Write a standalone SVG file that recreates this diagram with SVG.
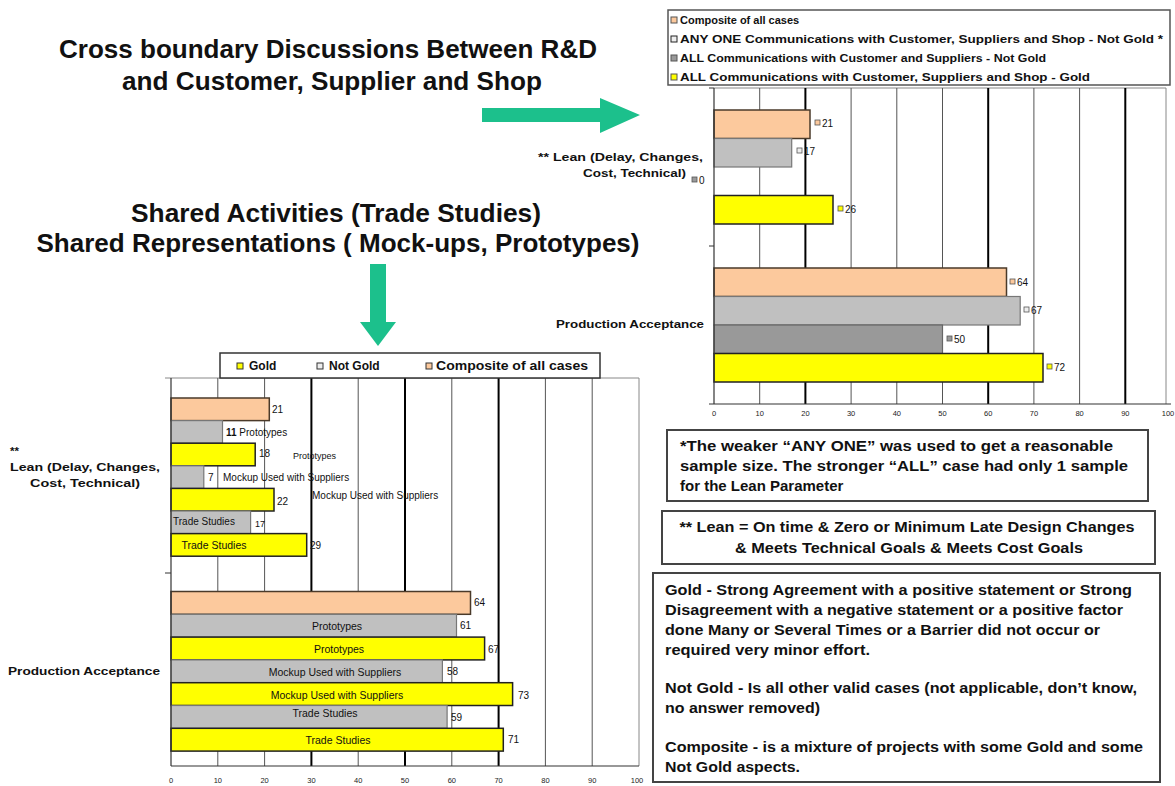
<svg xmlns="http://www.w3.org/2000/svg" width="1175" height="786" viewBox="0 0 1175 786">
<defs>
<style>
text{font-family:"Liberation Sans",Arial,sans-serif;fill:#111}
.title{font-size:26px;font-weight:bold;text-anchor:middle}
.note{font-size:15px;font-weight:bold}
.def{font-size:14.5px;font-weight:bold}
.leg{font-size:11px;font-weight:bold}
.cat{font-size:11.5px;font-weight:bold}
.val{font-size:10px}
.in{font-size:10.5px;text-anchor:middle}
.tick{font-size:7.5px;text-anchor:middle;fill:#222}
.grid{stroke:#555;stroke-width:1}
.gridb{stroke:#000;stroke-width:2}
.comp{fill:#FCC99D;stroke:#4a3a2a;stroke-width:1.5}
.ng{fill:#C0C0C0;stroke:#777;stroke-width:1.2}
.ngd{fill:#999999;stroke:#666;stroke-width:1.2}
.gold{fill:#FFFF00;stroke:#222;stroke-width:1.5}
.arrow{fill:#1CC08C}
.box{fill:#fff;stroke:#444;stroke-width:2}
</style>
</defs>
<rect width="1175" height="786" fill="#fff"/>

<g id="title-cross-boundary">
<text class="title" x="328" y="58" textLength="538" lengthAdjust="spacingAndGlyphs">Cross boundary Discussions Between R&amp;D</text>
<text class="title" x="332" y="90" textLength="420" lengthAdjust="spacingAndGlyphs">and Customer, Supplier and Shop</text>
</g>

<g id="title-shared">
<text class="title" x="336" y="222" textLength="410" lengthAdjust="spacingAndGlyphs">Shared Activities (Trade Studies)</text>
<text class="title" x="338" y="252" textLength="603" lengthAdjust="spacingAndGlyphs">Shared Representations ( Mock-ups, Prototypes)</text>
</g>

<g id="connectors">
<polygon class="arrow" points="482,108 600,108 600,98 640,115 600,133 600,122 482,122"/>
<polygon class="arrow" points="370,264 386,264 386,322 396,322 378,346 360,322 370,322"/>
</g>

<g id="chart-right">
<rect x="668" y="10" width="502" height="75" fill="#fff" stroke="#555" stroke-width="1.5"/>
<rect x="671" y="17" width="6" height="6" fill="#FCC99D" stroke="#555"/>
<text class="leg" x="680" y="24">Composite of all cases</text>
<rect x="671" y="36" width="6" height="6" fill="#eee" stroke="#222"/>
<text class="leg" x="680" y="43" textLength="483" lengthAdjust="spacingAndGlyphs">ANY ONE Communications with Customer, Suppliers and Shop - Not Gold *</text>
<rect x="671" y="55" width="6" height="6" fill="#999" stroke="#555"/>
<text class="leg" x="680" y="62" textLength="366" lengthAdjust="spacingAndGlyphs">ALL Communications with Customer and Suppliers - Not Gold</text>
<rect x="671" y="74" width="6" height="6" fill="#FFFF00" stroke="#555"/>
<text class="leg" x="680" y="81" textLength="410" lengthAdjust="spacingAndGlyphs">ALL Communications with Customer, Suppliers and Shop - Gold</text>

<line x1="714" y1="88" x2="1166" y2="88" stroke="#888"/>
<line x1="1166" y1="88" x2="1166" y2="404" stroke="#888"/>
<line class="grid" x1="759.7" y1="88" x2="759.7" y2="404"/>
<line class="gridb" x1="805.4" y1="88" x2="805.4" y2="404"/>
<line class="grid" x1="851.1" y1="88" x2="851.1" y2="404"/>
<line class="grid" x1="896.8" y1="88" x2="896.8" y2="404"/>
<line class="grid" x1="942.5" y1="88" x2="942.5" y2="404"/>
<line class="gridb" x1="988.2" y1="88" x2="988.2" y2="404"/>
<line class="grid" x1="1033.9" y1="88" x2="1033.9" y2="404"/>
<line class="grid" x1="1079.6" y1="88" x2="1079.6" y2="404"/>
<line class="gridb" x1="1125.3" y1="88" x2="1125.3" y2="404"/>

<rect class="comp" x="714" y="110" width="96" height="28.5"/>
<rect class="ng" x="714" y="138.5" width="77.7" height="28.5"/>
<rect class="gold" x="714" y="195.5" width="119" height="28.5"/>
<rect class="comp" x="714" y="268" width="292.5" height="28.5"/>
<rect class="ng" x="714" y="296.5" width="306.2" height="28.5"/>
<rect class="ngd" x="714" y="325" width="228.5" height="28.5"/>
<rect class="gold" x="714" y="353.5" width="329" height="28.5"/>

<line x1="714" y1="88" x2="714" y2="404" stroke="#333" stroke-width="1.2"/>
<line x1="709" y1="88" x2="714" y2="88" stroke="#333"/>
<line x1="709" y1="246" x2="714" y2="246" stroke="#333"/>
<line x1="709" y1="404" x2="714" y2="404" stroke="#333"/>
<line x1="714" y1="404" x2="1171" y2="404" stroke="#333" stroke-width="1.2"/>

<rect x="815" y="120" width="5" height="5" fill="#FCC99D" stroke="#555" stroke-width="0.8"/>
<text class="val" x="822" y="127">21</text>
<rect x="797" y="148" width="5" height="5" fill="#eee" stroke="#555" stroke-width="0.8"/>
<text class="val" x="804" y="155">17</text>
<rect x="692" y="177" width="5" height="5" fill="#999" stroke="#555" stroke-width="0.8"/>
<text class="val" x="699" y="184">0</text>
<rect x="838" y="206" width="5" height="5" fill="#FFFF00" stroke="#555" stroke-width="0.8"/>
<text class="val" x="845" y="213">26</text>
<rect x="1010" y="279" width="5" height="5" fill="#FCC99D" stroke="#555" stroke-width="0.8"/>
<text class="val" x="1017" y="286">64</text>
<rect x="1024" y="307" width="5" height="5" fill="#eee" stroke="#555" stroke-width="0.8"/>
<text class="val" x="1031" y="314">67</text>
<rect x="947" y="336" width="5" height="5" fill="#999" stroke="#555" stroke-width="0.8"/>
<text class="val" x="954" y="343">50</text>
<rect x="1047" y="364" width="5" height="5" fill="#FFFF00" stroke="#555" stroke-width="0.8"/>
<text class="val" x="1054" y="371">72</text>

<text class="cat" x="538" y="161" textLength="165" lengthAdjust="spacingAndGlyphs">** Lean (Delay, Changes,</text>
<text class="cat" x="583" y="177" textLength="103" lengthAdjust="spacingAndGlyphs">Cost, Technical)</text>
<text class="cat" x="556" y="328" textLength="148" lengthAdjust="spacingAndGlyphs">Production Acceptance</text>

<text class="tick" x="714" y="416">0</text>
<text class="tick" x="759.7" y="416">10</text>
<text class="tick" x="805.4" y="416">20</text>
<text class="tick" x="851.1" y="416">30</text>
<text class="tick" x="896.8" y="416">40</text>
<text class="tick" x="942.5" y="416">50</text>
<text class="tick" x="988.2" y="416">60</text>
<text class="tick" x="1033.9" y="416">70</text>
<text class="tick" x="1079.6" y="416">80</text>
<text class="tick" x="1125.3" y="416">90</text>
<text class="tick" x="1168" y="416">100</text>
</g>

<g id="chart-left">
<line x1="165" y1="378" x2="639" y2="378" stroke="#888"/>
<line x1="639" y1="378" x2="639" y2="766" stroke="#888"/>
<line class="grid" x1="217.8" y1="378" x2="217.8" y2="766"/>
<line class="grid" x1="264.6" y1="378" x2="264.6" y2="766"/>
<line class="gridb" x1="311.4" y1="378" x2="311.4" y2="766"/>
<line class="grid" x1="358.2" y1="378" x2="358.2" y2="766"/>
<line class="gridb" x1="405" y1="378" x2="405" y2="766"/>
<line class="grid" x1="451.8" y1="378" x2="451.8" y2="766"/>
<line class="gridb" x1="498.6" y1="378" x2="498.6" y2="766"/>
<line class="grid" x1="545.4" y1="378" x2="545.4" y2="766"/>
<line class="grid" x1="592.2" y1="378" x2="592.2" y2="766"/>

<rect x="220" y="353" width="380" height="25" fill="#fff" stroke="#333" stroke-width="1.5"/>
<rect x="237" y="363" width="6" height="6" fill="#FFFF00" stroke="#333"/>
<text class="leg" x="249" y="370" style="font-size:12px">Gold</text>
<rect x="317" y="363" width="6" height="6" fill="#eee" stroke="#333"/>
<text class="leg" x="329" y="370" style="font-size:12px">Not Gold</text>
<rect x="426" y="363" width="6" height="6" fill="#FCC99D" stroke="#333"/>
<text class="leg" x="436" y="370" style="font-size:12px" textLength="152" lengthAdjust="spacingAndGlyphs">Composite of all cases</text>

<rect class="comp" x="171" y="398" width="98.3" height="22.6"/>
<rect class="ng" x="171" y="420.6" width="51.5" height="22.6"/>
<rect class="gold" x="171" y="443.2" width="84.2" height="22.6"/>
<rect class="ng" x="171" y="465.8" width="32.8" height="22.6"/>
<rect class="gold" x="171" y="488.4" width="103" height="22.6"/>
<rect class="ng" x="171" y="511" width="79.6" height="22.6"/>
<rect class="gold" x="171" y="533.6" width="135.7" height="22.6"/>

<rect class="comp" x="171" y="591.5" width="299.5" height="22.8"/>
<rect class="ng" x="171" y="614.3" width="285.5" height="22.8"/>
<rect class="gold" x="171" y="637.1" width="313.6" height="22.8"/>
<rect class="ng" x="171" y="659.9" width="271.4" height="22.8"/>
<rect class="gold" x="171" y="682.7" width="341.6" height="22.8"/>
<rect class="ng" x="171" y="705.5" width="276.1" height="22.8"/>
<rect class="gold" x="171" y="728.3" width="332.3" height="22.8"/>

<line x1="171" y1="378" x2="171" y2="766" stroke="#333" stroke-width="1.2"/>
<line x1="165" y1="573" x2="171" y2="573" stroke="#333"/>
<line x1="171" y1="766" x2="639" y2="766" stroke="#333" stroke-width="1.2"/>

<text class="val" x="272" y="413">21</text>
<text class="val" x="226" y="436"><tspan font-weight="bold">11</tspan> Prototypes</text>
<text class="val" x="259" y="457">18</text>
<text class="val" x="293" y="459" style="font-size:9px">Prototypes</text>
<text class="val" x="208" y="481">7</text>
<text class="val" x="223" y="481">Mockup Used with Suppliers</text>
<text class="val" x="277" y="505">22</text>
<text class="val" x="312" y="499">Mockup Used with Suppliers</text>
<text class="val" x="173" y="525">Trade Studies</text>
<text class="val" x="255" y="527" style="font-size:9px">17</text>
<text class="in" x="214" y="549">Trade Studies</text>
<text class="val" x="310" y="549">29</text>

<text class="val" x="474" y="606">64</text>
<text class="in" x="337" y="630">Prototypes</text>
<text class="val" x="460" y="629">61</text>
<text class="in" x="339" y="653">Prototypes</text>
<text class="val" x="488" y="653">67</text>
<text class="in" x="335" y="676">Mockup Used with Suppliers</text>
<text class="val" x="447" y="675">58</text>
<text class="in" x="337" y="699">Mockup Used with Suppliers</text>
<text class="val" x="518" y="699">73</text>
<text class="in" x="325" y="717">Trade Studies</text>
<text class="val" x="451" y="721">59</text>
<text class="in" x="338" y="744">Trade Studies</text>
<text class="val" x="508" y="743">71</text>

<text class="cat" x="10" y="455">**</text>
<text class="cat" x="10" y="471" textLength="150" lengthAdjust="spacingAndGlyphs">Lean (Delay, Changes,</text>
<text class="cat" x="30" y="487" textLength="110" lengthAdjust="spacingAndGlyphs">Cost, Technical)</text>
<text class="cat" x="8" y="675" textLength="152" lengthAdjust="spacingAndGlyphs">Production Acceptance</text>

<text class="tick" x="171" y="783">0</text>
<text class="tick" x="217.8" y="783">10</text>
<text class="tick" x="264.6" y="783">20</text>
<text class="tick" x="311.4" y="783">30</text>
<text class="tick" x="358.2" y="783">40</text>
<text class="tick" x="405" y="783">50</text>
<text class="tick" x="451.8" y="783">60</text>
<text class="tick" x="498.6" y="783">70</text>
<text class="tick" x="545.4" y="783">80</text>
<text class="tick" x="592.2" y="783">90</text>
<text class="tick" x="637" y="783">100</text>
</g>

<g id="note-any-one">
<rect class="box" x="667" y="430" width="481" height="71"/>
<text class="note" x="680" y="451" textLength="433" lengthAdjust="spacingAndGlyphs">*The weaker “ANY ONE” was used  to get a reasonable</text>
<text class="note" x="680" y="471" textLength="448" lengthAdjust="spacingAndGlyphs">sample size.  The stronger “ALL”  case had only 1 sample</text>
<text class="note" x="680" y="491">for  the Lean Parameter</text>
</g>

<g id="note-lean">
<rect class="box" x="662" y="511" width="493" height="53" stroke="#222"/>
<text class="note" x="907" y="532" text-anchor="middle" textLength="455" lengthAdjust="spacingAndGlyphs">** Lean = On time &amp; Zero or Minimum Late Design Changes</text>
<text class="note" x="909" y="553" text-anchor="middle" textLength="348" lengthAdjust="spacingAndGlyphs">&amp; Meets Technical Goals &amp; Meets Cost Goals</text>
</g>

<g id="note-definitions">
<rect class="box" x="653" y="573" width="507" height="209" stroke="#888"/>
<text class="def" x="665" y="595" textLength="467" lengthAdjust="spacingAndGlyphs">Gold - Strong Agreement with a positive statement or Strong</text>
<text class="def" x="665" y="615" textLength="458" lengthAdjust="spacingAndGlyphs">Disagreement with a negative statement or a positive factor</text>
<text class="def" x="665" y="635" textLength="435" lengthAdjust="spacingAndGlyphs">done Many or Several Times or a Barrier did not occur or</text>
<text class="def" x="665" y="655" textLength="205" lengthAdjust="spacingAndGlyphs">required very minor effort.</text>
<text class="def" x="665" y="693" textLength="472" lengthAdjust="spacingAndGlyphs">Not Gold - Is all other valid cases (not applicable, don’t know,</text>
<text class="def" x="665" y="713" textLength="155" lengthAdjust="spacingAndGlyphs">no answer removed)</text>
<text class="def" x="665" y="752" textLength="478" lengthAdjust="spacingAndGlyphs">Composite - is a mixture of projects with some Gold and some</text>
<text class="def" x="665" y="772" textLength="135" lengthAdjust="spacingAndGlyphs">Not Gold aspects.</text>
</g>
</svg>
